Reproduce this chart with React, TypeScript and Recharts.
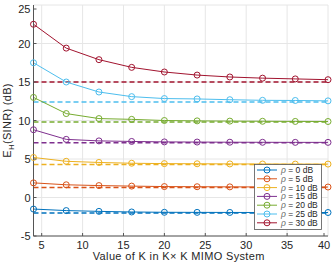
import React from 'react';
import { LineChart, Line, XAxis, YAxis, CartesianGrid, ReferenceLine } from 'recharts';

// K values (K x K MIMO)
const kValues = [4, 8, 12, 16, 20, 24, 28, 32, 36, 40];

// E_H(SINR) in dB for each rho
const snr0 = [-1.5, -1.7, -1.8, -1.88, -1.92, -1.93, -1.94, -1.95, -1.95, -1.95];
const snr5 = [1.9, 1.65, 1.55, 1.48, 1.42, 1.4, 1.38, 1.37, 1.36, 1.36];
const snr10 = [5.2, 4.7, 4.55, 4.45, 4.4, 4.38, 4.36, 4.35, 4.34, 4.34];
const snr15 = [8.8, 7.55, 7.35, 7.28, 7.22, 7.2, 7.18, 7.17, 7.16, 7.16];
const snr20 = [13.0, 10.9, 10.25, 10.15, 10.0, 9.95, 9.92, 9.9, 9.88, 9.87];
const snr25 = [17.5, 15.0, 13.7, 13.1, 12.85, 12.8, 12.7, 12.62, 12.6, 12.55];
const snr30 = [22.5, 19.4, 17.9, 16.9, 16.3, 15.9, 15.65, 15.5, 15.4, 15.3];

// dashed asymptotes, same order
const limits = [-2.0, 1.3, 4.3, 7.1, 9.8, 12.4, 15.0];

const labels = ['0 dB', '5 dB', '10 dB', '15 dB', '20 dB', '25 dB', '30 dB'];
const colors = ['#0072BD', '#D95319', '#EDB120', '#7E2F8E', '#77AC30', '#4DBEEE', '#A2142F'];

const xTicks = [5, 10, 15, 20, 25, 30, 35, 40];
const yTicks = [-5, 0, 5, 10, 15, 20, 25];

const allSeries = [snr0, snr5, snr10, snr15, snr20, snr25, snr30];

const rows = kValues.map((k, i) => {
  const row: Record<string, number> = { k };
  allSeries.forEach((s, j) => {
    row['s' + j] = s[i];
  });
  return row;
});

const axisColor = '#555';
const textColor = '#262626';
const font = 'Liberation Sans, Arial, sans-serif';

const BottomTick = (props: any) => {
  const { x, y, payload } = props;
  return (
    <g>
      <line x1={x} x2={x} y1={y} y2={y - 3} stroke={axisColor} />
      <text x={x} y={y + 12.5} textAnchor="middle" fontSize={11} fill={textColor} fontFamily={font}>
        {payload.value}
      </text>
    </g>
  );
};

const LeftTick = (props: any) => {
  const { x, y, payload } = props;
  return (
    <g>
      <line x1={x} x2={x + 3} y1={y} y2={y} stroke={axisColor} />
      <text x={x - 3} y={y + 4} textAnchor="end" fontSize={11} fill={textColor} fontFamily={font}>
        {payload.value}
      </text>
    </g>
  );
};

const TopTick = (props: any) => {
  const { x, y } = props;
  return <line x1={x} x2={x} y1={y} y2={y + 3} stroke={axisColor} />;
};

const RightTick = (props: any) => {
  const { x, y } = props;
  return <line x1={x} x2={x - 3} y1={y} y2={y} stroke={axisColor} />;
};

const Legend: React.FC = () => {
  const left = 254;
  const top = 164;
  const rowH = 8.8;
  return (
    <svg
      width={70}
      height={68}
      style={{ position: 'absolute', left, top }}
    >
      <rect x={0.5} y={0.5} width={67} height={65} fill="#fff" stroke={axisColor} strokeWidth={0.8} />
      {labels.map((lab, i) => {
        const cy = 6 + i * rowH;
        return (
          <g key={lab}>
            <line x1={3} x2={23} y1={cy} y2={cy} stroke={colors[i]} strokeWidth={1} />
            <circle cx={13} cy={cy} r={3} fill="none" stroke={colors[i]} strokeWidth={1} />
            <text x={27} y={cy + 3} fontSize={8.5} fill={textColor} fontFamily={font}>
              <tspan fontStyle="italic" fill="#666">ρ</tspan> = {lab}
            </text>
          </g>
        );
      })}
    </svg>
  );
};

const App: React.FC = () => {
  return (
    <div style={{ position: 'absolute', left: 0, top: 0, width: 332, height: 264, background: '#fff' }}>
      <LineChart width={332} height={264} data={rows} margin={{ top: 5, right: 4, left: 0, bottom: 0 }}>
        <CartesianGrid stroke="#e6e6e6" />
        <XAxis
          dataKey="k"
          type="number"
          domain={[4, 40]}
          ticks={xTicks}
          height={28}
          tickSize={0}
          tickMargin={0}
          tick={<BottomTick />}
          axisLine={{ stroke: axisColor }}
          label={({ viewBox }: any) => (
            <text
              x={viewBox.x + viewBox.width / 2 - 2}
              y={viewBox.y + 23.5}
              textAnchor="middle"
              fontSize={11}
              letterSpacing={0.35}
              fill={textColor}
              fontFamily={font}
            >
              Value of K in K× K MIMO System
            </text>
          )}
        />
        <XAxis
          xAxisId="top"
          orientation="top"
          dataKey="k"
          type="number"
          domain={[4, 40]}
          ticks={xTicks}
          height={0}
          tickSize={0}
          tickMargin={0}
          tick={<TopTick />}
          axisLine={{ stroke: axisColor }}
        />
        <YAxis
          type="number"
          domain={[-5, 25]}
          ticks={yTicks}
          width={33.5}
          tickSize={0}
          tickMargin={0}
          tick={<LeftTick />}
          axisLine={{ stroke: axisColor }}
          label={({ viewBox }: any) => {
            const cx = 11;
            const cy = viewBox.y + viewBox.height / 2;
            return (
              <text
                x={cx}
                y={cy}
                transform={`rotate(-90 ${cx} ${cy})`}
                textAnchor="middle"
                fontSize={11}
                letterSpacing={0.3}
                fill={textColor}
                fontFamily={font}
              >
                E<tspan dy={2.5} fontSize={8}>H</tspan>
                <tspan dy={-2.5}>(SINR) (dB)</tspan>
              </text>
            );
          }}
        />
        <YAxis
          yAxisId="right"
          orientation="right"
          type="number"
          domain={[-5, 25]}
          ticks={yTicks}
          width={0}
          tickSize={0}
          tickMargin={0}
          tick={<RightTick />}
          axisLine={{ stroke: axisColor }}
        />
        {limits.map((v, i) => (
          <ReferenceLine
            key={'lim' + i}
            y={v}
            stroke={colors[i]}
            strokeWidth={1.5}
            strokeDasharray="5 3"
          />
        ))}
        {allSeries.map((_, i) => (
          <Line
            key={'s' + i}
            dataKey={'s' + i}
            stroke={colors[i]}
            strokeWidth={1}
            dot={{ r: 3, fill: 'none', stroke: colors[i], strokeWidth: 1 }}
            isAnimationActive={false}
          />
        ))}
      </LineChart>
      <Legend />
    </div>
  );
};

export default App;
